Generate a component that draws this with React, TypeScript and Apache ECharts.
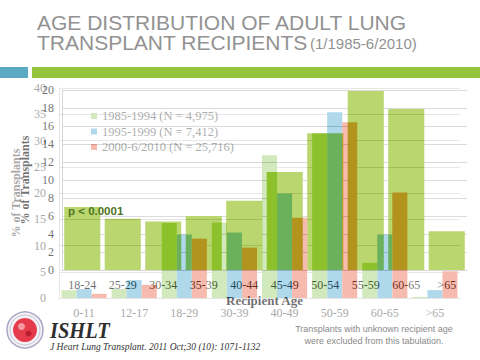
import { useEffect, useRef } from "react";
import * as echarts from "echarts";

// Front slide: adult age bands, 5-year groups
const ageGroupsA = ["18-24", "25-29", "30-34", "35-39", "40-44", "45-49", "50-54", "55-59", "60-65", ">65"];
const sharesA = [7.0, 5.7, 5.4, 6.0, 7.7, 10.9, 15.2, 19.9, 17.9, 4.3];

// Back slide (fading): age groups by era
const ageGroupsB = ["0-11", "12-17", "18-29", "30-39", "40-49", "50-59", "60-65", ">65"];
const eraNames = ["1985-1994 (N = 4,975)", "1995-1999 (N = 7,412)", "2000-6/2010 (N = 25,716)"];
const era1985 = [1.5, 1.7, 14.3, 14.4, 27.2, 31.4, 6.7, 0.2];
const era1995 = [1.7, 3.4, 12.1, 12.5, 19.9, 35.4, 12.1, 1.5];
const era2000 = [0.8, 2.5, 11.3, 9.6, 15.3, 33.5, 20.1, 5.1];

const SERIF = "Liberation Serif";
const SANS = "Liberation Sans";

function optionA(): any {
  return {
    animation: false,
    backgroundColor: "#ffffff",
    grid: { left: 62, right: 13, top: 90, bottom: 90 },
    xAxis: {
      type: "category",
      data: ageGroupsA,
      axisTick: { show: false },
      axisLine: { lineStyle: { color: "#bfbfbf" } },
      axisLabel: { color: "#111", fontFamily: SERIF, fontSize: 12, margin: 9, interval: 0 },
      name: "Recipient Age",
      nameLocation: "middle",
      nameGap: 24,
      nameTextStyle: { fontFamily: SERIF, fontWeight: "bold", fontSize: 13, color: "#111" },
    },
    yAxis: {
      type: "value",
      min: 0,
      max: 20,
      interval: 2,
      axisLine: { show: true, lineStyle: { color: "#bfbfbf" } },
      splitLine: { lineStyle: { color: "#c4c4c4" } },
      axisLabel: { color: "#111", fontFamily: SERIF, fontSize: 12, margin: 8 },
      name: "% of Transplants",
      nameLocation: "middle",
      nameGap: 31,
      nameTextStyle: { fontFamily: SERIF, fontWeight: "bold", fontSize: 12, color: "#111" },
    },
    series: [
      {
        type: "bar",
        data: sharesA,
        barCategoryGap: "11%",
        itemStyle: { color: "#8cbb0d" },
      },
    ],
  };
}

function optionB(): any {
  const colors = ["#8eca5a", "#3aa0cd", "#eb5837"];
  const datas = [era1985, era1995, era2000];
  return {
    animation: false,
    backgroundColor: "#ffffff",
    color: colors,
    grid: { left: 59, right: 20, top: 88, bottom: 62 },
    legend: {
      orient: "vertical",
      left: 86,
      top: 104,
      itemWidth: 6,
      itemHeight: 6,
      itemGap: 1.5,
      icon: "rect",
      textStyle: { fontFamily: SERIF, fontSize: 12.5, color: "#333", lineHeight: 14 },
      data: eraNames,
    },
    xAxis: {
      type: "category",
      data: ageGroupsB,
      axisTick: { show: false },
      axisLine: { lineStyle: { color: "#bfbfbf" } },
      axisLabel: { color: "#222", fontFamily: SERIF, fontSize: 12, margin: 9, interval: 0 },
    },
    yAxis: {
      type: "value",
      min: 0,
      max: 40,
      interval: 5,
      axisLine: { show: true, lineStyle: { color: "#bfbfbf" } },
      splitLine: { lineStyle: { color: "#c4c4c4" } },
      axisLabel: { color: "#222", fontFamily: SERIF, fontSize: 12, margin: 13 },
      name: "% of Transplants",
      nameLocation: "middle",
      nameGap: 37,
      nameTextStyle: { fontFamily: SERIF, fontWeight: "bold", fontSize: 12, color: "#222" },
    },
    series: datas.map((d, i) => ({
      type: "bar",
      name: eraNames[i],
      data: d,
      barGap: "0%",
      barCategoryGap: "10%",
    })),
  };
}

function optionShared(): any {
  return {
    animation: false,
    backgroundColor: "transparent",
    graphic: [
      { type: "text", left: 37, top: 12, style: { text: "AGE DISTRIBUTION OF ADULT LUNG", fontFamily: SANS, fontSize: 21, fill: "#929292" } },
      { type: "text", left: 37, top: 32, style: { text: "TRANSPLANT RECIPIENTS", fontFamily: SANS, fontSize: 21, fill: "#929292" } },
      { type: "text", left: 310, top: 36, style: { text: "(1/1985-6/2010)", fontFamily: SANS, fontSize: 15, fill: "#929292" } },
      { type: "rect", shape: { x: 0, y: 67, width: 28, height: 11 }, style: { fill: "#5aaac6" } },
      { type: "rect", shape: { x: 32, y: 67, width: 448, height: 11 }, style: { fill: "#95c43c" } },
      { type: "text", x: 68, y: 211, style: { text: "p < 0.0001", fontFamily: SANS, fontWeight: "bold", fontSize: 11.5, fill: "#4f7424", verticalAlign: "middle" } },
      // ISHLT logo
      { type: "circle", shape: { cx: 25, cy: 330, r: 18 }, style: { fill: "#f3f1f6", stroke: "#a9a9c6", lineWidth: 1.5 } },
      { type: "circle", shape: { cx: 25, cy: 330, r: 15 }, style: { fill: "none", stroke: "#c9c5d9", lineWidth: 1 } },
      { type: "circle", shape: { cx: 25, cy: 330, r: 12 }, style: { fill: "#e63b4a" } },
      { type: "circle", shape: { cx: 21.5, cy: 326.5, r: 3.5 }, style: { fill: "#f59aa2" } },
      { type: "circle", shape: { cx: 28.5, cy: 333.5, r: 3 }, style: { fill: "#b81e30" } },
      { type: "text", x: 50, y: 330, scaleX: 0.85, style: { text: "ISHLT", fontFamily: SERIF, fontStyle: "italic", fontWeight: "bold", fontSize: 24, fill: "#2e2e2e", verticalAlign: "middle" } },
      { type: "text", x: 50, y: 347, style: { text: "J Heart Lung Transplant. 2011 Oct;30 (10): 1071-1132", fontFamily: SERIF, fontStyle: "italic", fontSize: 9.5, fill: "#333", verticalAlign: "middle" } },
      { type: "text", x: 374, y: 329, style: { text: "Transplants with unknown recipient age", fontFamily: SANS, fontSize: 9, fill: "#8a8a8a", align: "center", verticalAlign: "middle" } },
      { type: "text", x: 374, y: 341, style: { text: "were excluded from this tabulation.", fontFamily: SANS, fontSize: 9, fill: "#8a8a8a", align: "center", verticalAlign: "middle" } },
    ],
  };
}

const layerStyle: any = { position: "absolute", left: 0, top: 0, width: 480, height: 360 };

export default function App() {
  const refA = useRef<HTMLDivElement>(null);
  const refB = useRef<HTMLDivElement>(null);
  const refS = useRef<HTMLDivElement>(null);

  useEffect(() => {
    const a = echarts.init(refA.current!, undefined, { renderer: "svg" });
    const b = echarts.init(refB.current!, undefined, { renderer: "svg" });
    const s = echarts.init(refS.current!, undefined, { renderer: "svg" });
    a.setOption(optionA());
    b.setOption(optionB());
    s.setOption(optionShared());
    return () => {
      a.dispose();
      b.dispose();
      s.dispose();
    };
  }, []);

  return (
    <div style={{ position: "fixed", left: 0, top: 0, width: 480, height: 360, background: "#fff", overflow: "hidden" }}>
      <div ref={refA} style={layerStyle} />
      <div ref={refB} style={{ ...layerStyle, opacity: 0.4 }} />
      <div ref={refS} style={layerStyle} />
    </div>
  );
}
